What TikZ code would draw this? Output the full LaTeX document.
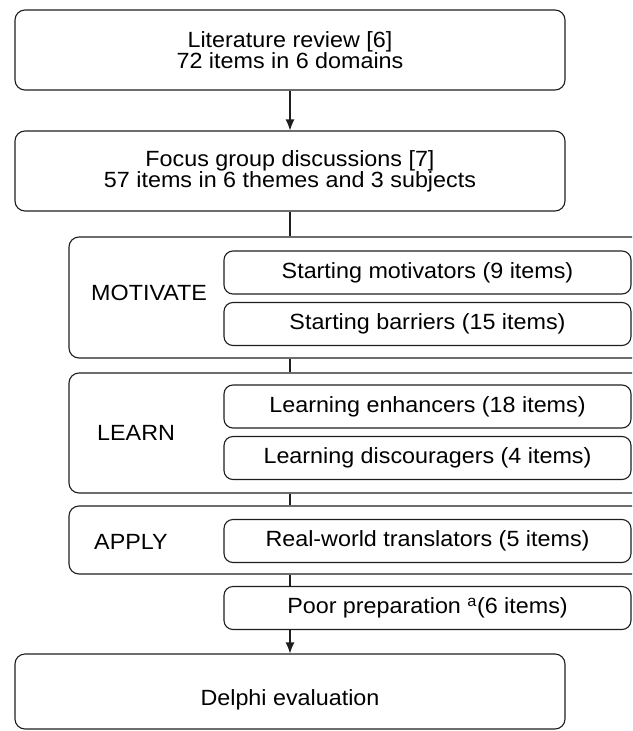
\documentclass[tikz,border=0pt]{standalone}
\usepackage{fontspec}
\setmainfont{Liberation Sans}[FakeStretch=1.06]
\usepackage{tikz}
\usetikzlibrary{arrows.meta}
\definecolor{boxline}{RGB}{30, 30, 30}

\tikzset{
  stage/.style={draw=boxline, line width=1.1pt, rounded corners=10pt, align=center, minimum width=550pt, inner sep=0pt},
  group/.style={draw=boxline, line width=1.1pt, rounded corners=10pt, minimum width=600pt, inner sep=0pt},
  item/.style={draw=boxline, line width=1.1pt, rounded corners=9pt, minimum width=407pt, minimum height=43pt, inner sep=0pt},
  phase/.style={anchor=west, inner sep=0pt},
  link/.style={draw=boxline, line width=1.1pt},
  flow/.style={link, -{Latex[length=11pt,width=9pt]}}
}

\begin{document}
\begin{tikzpicture}[x=1pt, y=-1pt, font=\fontsize{22}{21}\selectfont]
    \useasboundingbox (0,0) rectangle (632,731);
    \clip (0,0) rectangle (632,731);

    % sources
    \node[stage, minimum height=80pt] (lit) at (290,50) {Literature review [6]\\72 items in 6 domains};
    \node[stage, minimum height=80pt] (focus) at (290,171) {Focus group discussions [7]\\57 items in 6 themes and 3 subjects};

    % phases
    \node[group, minimum height=121pt] (mot) at (369,297.5) {};
    \node[group, minimum height=120pt] (lrn) at (369,433) {};
    \node[group, minimum height=68pt] (app) at (369,540) {};

    \node[phase] (motlabel) at (91,293) {MOTIVATE};
    \node[phase] (lrnlabel) at (97,433) {LEARN};
    \node[phase] (applabel) at (94,542) {APPLY};

    \node[item] (motivators) at (427.5,272.5) {Starting motivators (9 items)};
    \node[item] (barriers) at (427.5,324) {Starting barriers (15 items)};
    \node[item] (enhancers) at (427.5,406.5) {Learning enhancers (18 items)};
    \node[item] (discouragers) at (427.5,458) {Learning discouragers (4 items)};
    \node[item] (translators) at (427.5,541) {Real-world translators (5 items)};
    \node[item] (poor) at (427.5,608) {Poor preparation \textsuperscript{a}(6 items)};

    % outcome
    \node[stage, minimum height=75pt, text height=27pt, text depth=0pt] (delphi) at (290,691.5) {Delphi evaluation};

    % connectors
    \draw[flow] (lit) -- (focus);
    \draw[link] (focus) -- (focus.south |- mot.north);
    \draw[link] (focus.south |- mot.south) -- (focus.south |- lrn.north);
    \draw[link] (focus.south |- lrn.south) -- (focus.south |- app.north);
    \draw[link] (focus.south |- app.south) -- (focus.south |- poor.north);
    \draw[flow] (focus.south |- poor.south) -- (delphi);
\end{tikzpicture}
\end{document}
